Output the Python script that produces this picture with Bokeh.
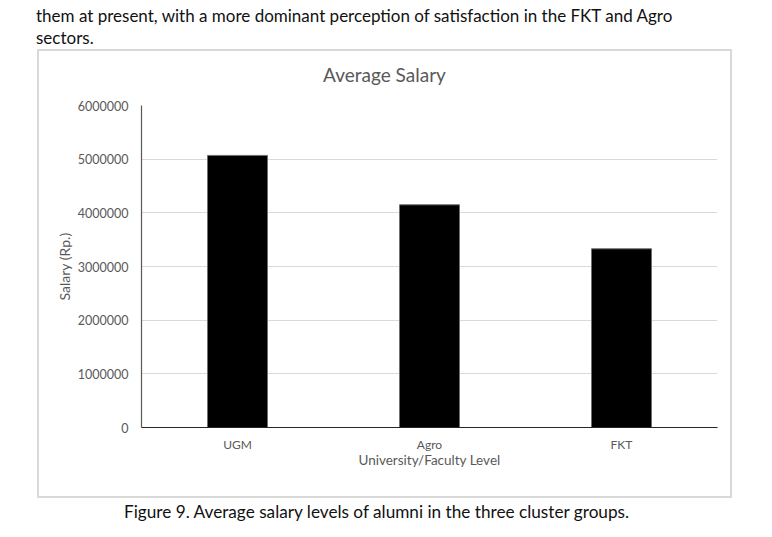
from bokeh.plotting import figure
from bokeh.layouts import column
from bokeh.models import (FactorRange, Range1d, FixedTicker, NumeralTickFormatter, Div)
from bokeh.embed import file_html
from bokeh.resources import INLINE

# ---- data ----
categories = ["UGM", "Agro", "FKT"]
salaries = [5070000, 4150000, 3330000]
y_ticks = [0, 1000000, 2000000, 3000000, 4000000, 5000000, 6000000]
title_text = "Average Salary"
x_label = "University/Faculty Level"
y_label = "Salary (Rp.)"
para_line1 = "them at present, with a more dominant perception of satisfaction in the FKT and Agro"
para_line2 = "sectors."
caption = "Figure 9. Average salary levels of alumni in the three cluster groups."

FONT = "Lato"
GRAY = "#595959"
BORDER = "2px solid #d9d9d9"

p = figure(width=695, height=403, x_range=FactorRange(*categories),
           y_range=Range1d(0, 6000000), output_backend="svg",
           toolbar_location=None, min_border_left=102, min_border_right=17,
           min_border_top=10, min_border_bottom=71,
           styles={"border-left": BORDER, "border-right": BORDER,
                   "border-bottom": BORDER, "margin-left": "37px"})
p.outline_line_color = None

p.vbar(x=categories, top=salaries, width=0.3125, fill_color="black",
       line_color="#6f6f6f", line_width=1)

# axes
p.yaxis.ticker = FixedTicker(ticks=y_ticks)
p.yaxis.formatter = NumeralTickFormatter(format="0")
p.yaxis.major_tick_line_color = None
p.yaxis.minor_tick_line_color = None
p.yaxis.axis_line_color = GRAY
p.yaxis.axis_line_width = 1.2
p.yaxis.major_label_text_font = FONT
p.yaxis.major_label_text_font_size = "12.5px"
p.yaxis.major_label_text_color = GRAY
p.yaxis.major_label_standoff = 7
p.yaxis.axis_label = y_label
p.yaxis.axis_label_text_font = FONT
p.yaxis.axis_label_text_font_size = "14px"
p.yaxis.axis_label_text_font_style = "normal"
p.yaxis.axis_label_text_color = GRAY
p.yaxis.axis_label_standoff = 2

p.xaxis.major_tick_line_color = None
p.xaxis.minor_tick_line_color = None
p.xaxis.axis_line_color = "#262626"
p.xaxis.axis_line_width = 1.2
p.xaxis.major_label_text_font = FONT
p.xaxis.major_label_text_font_size = "12px"
p.xaxis.major_label_text_color = GRAY
p.xaxis.major_label_standoff = 3
p.xaxis.axis_label = x_label
p.xaxis.axis_label_text_font = FONT
p.xaxis.axis_label_text_font_size = "13.5px"
p.xaxis.axis_label_text_font_style = "normal"
p.xaxis.axis_label_text_color = GRAY
p.xaxis.axis_label_standoff = -3

p.xgrid.grid_line_color = None
p.ygrid.grid_line_color = "#d9d9d9"
p.ygrid.grid_line_width = 1

top_div = Div(text=para_line1 + "<br>" + para_line2, width=740, height=49,
              margin=(0, 0, 0, 0),
              styles={"font-family": FONT, "font-size": "17px", "color": "#111111",
                      "line-height": "22.3px", "padding-top": "5px",
                      "padding-left": "36px", "box-sizing": "border-box",
                      "white-space": "nowrap"})
title_div = Div(text=title_text, width=695, height=46, margin=(0, 0, 0, 37),
                styles={"border-top": BORDER, "border-left": BORDER,
                        "border-right": BORDER,
                        "font-family": FONT, "font-size": "19px", "color": GRAY,
                        "line-height": "47px", "text-align": "center",
                        "white-space": "nowrap"})
cap_div = Div(text=caption, width=740, height=36, margin=(0, 0, 0, 0),
              styles={"font-family": FONT, "font-size": "17.2px", "color": "#111111",
                      "line-height": "20px", "padding-top": "4px",
                      "padding-left": "124px", "box-sizing": "border-box",
                      "white-space": "nowrap"})

layout = column(top_div, title_div, p, cap_div, spacing=0)

open("out.html", "w").write(file_html(layout, INLINE))
